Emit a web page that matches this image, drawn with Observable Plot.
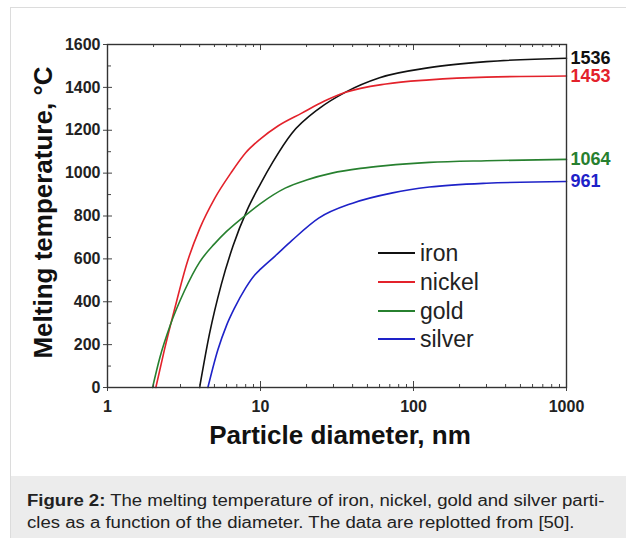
<!DOCTYPE html>
<html><head><meta charset="utf-8">
<script src="https://cdn.jsdelivr.net/npm/d3@7"></script>
<script src="https://cdn.jsdelivr.net/npm/@observablehq/plot@0.6"></script>
<style>
body{margin:0;background:#fff;font-family:"Liberation Sans",Arial,sans-serif;}
#card{position:absolute;left:10px;top:7px;width:640px;height:560px;border-top:1px solid #dcdcdc;border-left:1px solid #dcdcdc;}
#chart{position:absolute;left:11px;top:8px;}
#caption{position:absolute;left:11px;top:476px;width:615px;height:62px;background:#ececec;color:#222;font-size:16px;line-height:22px;overflow:hidden;}
#caption div{padding:14px 0 0 16px;transform:scaleX(1.16);transform-origin:16px 0;white-space:nowrap;}
.lg{position:absolute;left:378px;height:28px;display:flex;align-items:center;font-size:23px;color:#222;}
.lg span.ln{display:inline-block;width:37px;height:0;border-top-width:2px;border-top-style:solid;margin-right:5px;}
</style></head>
<body>
<div id="card"></div>
<div id="chart"></div>
<div id="legend"></div>
<div id="caption"><div><b>Figure 2:</b> The melting temperature of iron, nickel, gold and silver parti-<br>cles as a function of the diameter. The data are replotted from [50].</div></div>
<script>
// ---- data ----
const series = ["iron", "nickel", "gold", "silver"];
const colors = ["#111111", "#e3222b", "#27802f", "#1e22c8"];

const ironD   = [4.0, 4.64, 5.54, 6.61, 8.2, 10, 12, 16, 24, 36, 60, 127, 300, 1000];
const ironT   = [0, 250, 480, 660, 830, 950, 1050, 1185, 1300, 1378, 1445, 1492, 1520, 1536];
const nickelD = [2.07, 2.35, 2.73, 3.34, 4.0, 5.0, 6.4, 8.0, 10, 13, 18.6, 26, 36, 66, 127, 300, 1000];
const nickelT = [0, 173, 359, 590, 740, 880, 1000, 1095, 1160, 1220, 1280, 1335, 1377, 1416, 1435, 1448, 1453];
const goldD   = [1.97, 2.2, 2.57, 3.18, 4.0, 5.0, 6.0, 8.2, 10, 14.5, 20, 29.3, 45, 65.8, 127, 300, 1000];
const goldT   = [0, 140, 290, 450, 585, 670, 728, 810, 858, 930, 968, 1000, 1022, 1035, 1050, 1058, 1064];
const silverD = [4.53, 5.26, 6.0, 6.76, 8.0, 9.17, 10, 12.4, 16, 24, 40, 73, 127, 300, 1000];
const silverT = [0, 175, 290, 370, 465, 525, 552, 612, 685, 790, 860, 908, 935, 953, 961];

const endValues = [1536, 1453, 1064, 961];
const xTickLabels = [1, 10, 100, 1000];
const yTickLabels = [0, 200, 400, 600, 800, 1000, 1200, 1400, 1600];
const xTitle = "Particle diameter, nm";
const yTitle = "Melting temperature, °C";

// ---- build table ----
const diams = [ironD, nickelD, goldD, silverD];
const temps = [ironT, nickelT, goldT, silverT];
const rows = [];
series.forEach((s, i) => diams[i].forEach((d, j) => rows.push({metal: s, d, t: temps[i][j]})));

const xMinor = [];
[1, 10, 100].forEach(b => d3.range(2, 10).forEach(k => xMinor.push(b * k)));
const yMinor = d3.range(100, 1600, 200);

const tickColor = "#444";
const font = "Liberation Sans, Arial, sans-serif";

const plot = Plot.plot({
  width: 615, height: 468,
  marginLeft: 96, marginRight: 60, marginTop: 36, marginBottom: 89,
  style: {fontFamily: font, background: "transparent", overflow: "visible", color: "#222"},
  x: {type: "log", domain: [1, 1000], axis: null},
  y: {domain: [0, 1600], axis: null},
  color: {domain: series, range: colors},
  marks: [
    Plot.line(rows, {x: "d", y: "t", z: "metal", stroke: "metal", strokeWidth: 1.6, curve: "monotone-x"}),
    // bottom ticks
    Plot.ruleX(xMinor, {x: d => d, y1: () => 0, y2: () => 0, insetTop: -3, insetBottom: 0, stroke: tickColor}),
    Plot.ruleX(xTickLabels, {x: d => d, y1: () => 0, y2: () => 0, insetTop: -6, insetBottom: -4, stroke: tickColor}),
    // top ticks
    Plot.ruleX(xMinor, {x: d => d, y1: () => 1600, y2: () => 1600, insetTop: 0, insetBottom: -3, stroke: tickColor}),
    Plot.ruleX(xTickLabels, {x: d => d, y1: () => 1600, y2: () => 1600, insetTop: 0, insetBottom: -6, stroke: tickColor}),
    // left ticks
    Plot.ruleY(yMinor, {y: d => d, x1: () => 1, x2: () => 1, insetLeft: 0, insetRight: -4, stroke: tickColor}),
    Plot.ruleY(yTickLabels, {y: d => d, x1: () => 1, x2: () => 1, insetLeft: -4, insetRight: -5, stroke: tickColor}),
    Plot.frame({stroke: "#333", strokeWidth: 1.4}),
    Plot.axisX(xTickLabels, {anchor: "bottom", tickSize: 0, tickPadding: 13, fontSize: 16, fontWeight: "bold", tickFormat: d => String(d), label: null, fill: "#222"}),
    Plot.axisY(yTickLabels, {anchor: "left", tickSize: 0, tickPadding: 7, fontSize: 16, fontWeight: "bold", tickFormat: d => String(d), label: null, fill: "#222"}),
    Plot.text(endValues, {x: () => 1000, y: d => d, text: d => String(d), fill: (d, i) => series[i], dx: 4, textAnchor: "start", fontSize: 18, fontWeight: "bold"}),
    Plot.text([xTitle], {text: d => d, frameAnchor: "bottom", lineAnchor: "middle", textAnchor: "middle", dy: 48, dx: 3, fontSize: 26, fontWeight: "bold", fill: "#111"}),
    Plot.text([yTitle], {text: d => d, frameAnchor: "left", lineAnchor: "middle", textAnchor: "middle", rotate: -90, dx: -63.5, dy: -3.5, fontSize: 26, fontWeight: "bold", fill: "#111"})
  ]
});
document.getElementById("chart").appendChild(plot);

// legend
const legendTop = [253, 282, 311, 339];
const lg = document.getElementById("legend");
series.forEach((s, i) => {
  const row = document.createElement("div");
  row.className = "lg";
  row.style.top = (legendTop[i] - 14) + "px";
  row.innerHTML = `<span class="ln" style="border-top-color:${colors[i]}"></span><span>${s}</span>`;
  lg.appendChild(row);
});
</script>
</body></html>
